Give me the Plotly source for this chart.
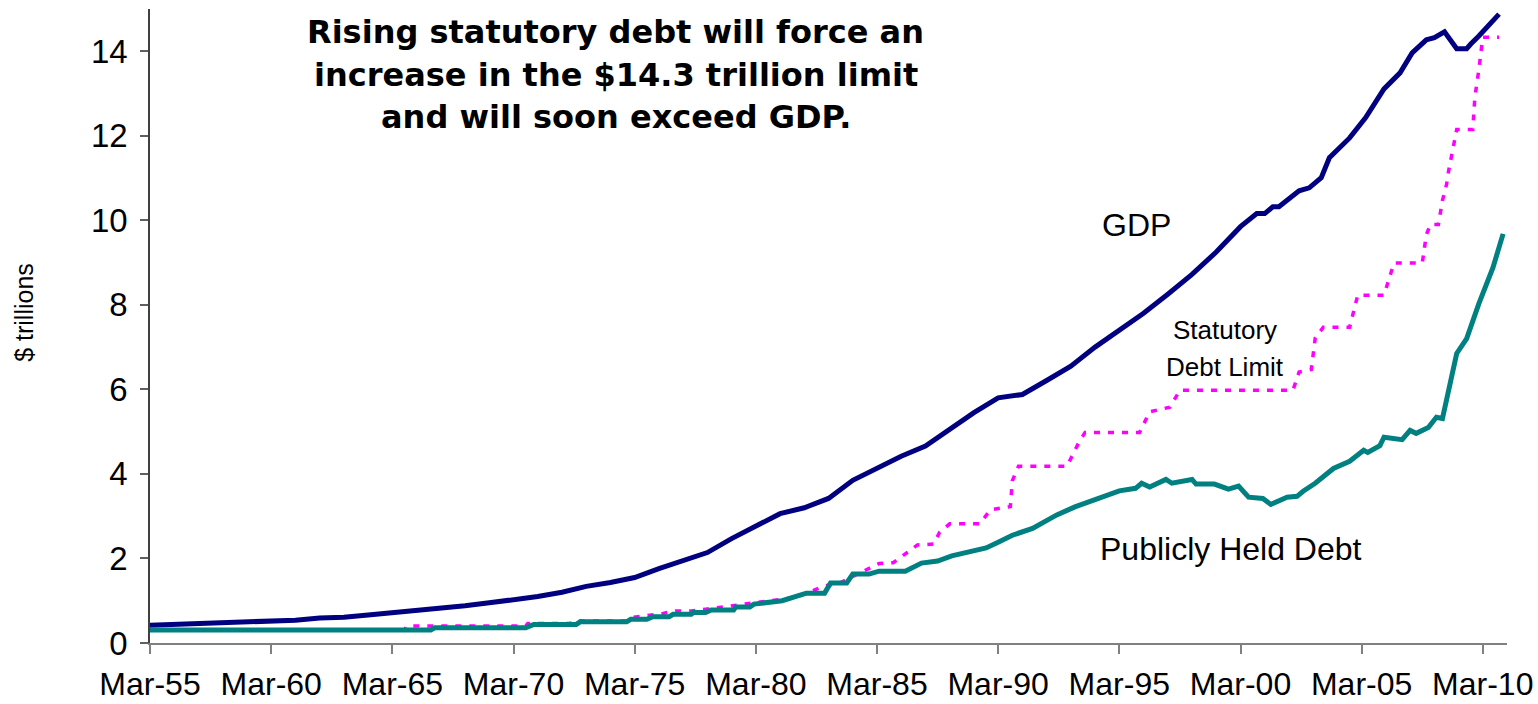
import plotly.graph_objects as go

# ---------------- data ----------------
gdp_dates = [
    "1955-03", "1956-03", "1957-03", "1958-03", "1959-03", "1960-03", "1961-03", "1962-03",
    "1963-03", "1964-03", "1965-03", "1966-03", "1967-03", "1968-03", "1969-03", "1970-03",
    "1971-03", "1972-03", "1973-03", "1974-03", "1975-03", "1976-03", "1977-03", "1978-03",
    "1979-03", "1980-03", "1981-03", "1982-03", "1983-03", "1984-03", "1985-03", "1986-03",
    "1987-03", "1988-03", "1989-03", "1990-03", "1991-03", "1992-03", "1993-03", "1994-03",
    "1995-03", "1996-03", "1997-03", "1998-03", "1999-03", "2000-03", "2000-11", "2001-03",
    "2001-07", "2001-10", "2002-08", "2003-01", "2003-07", "2003-11", "2004-09", "2005-05",
    "2006-02", "2006-10", "2007-04", "2007-11", "2008-03", "2008-07", "2008-08", "2009-02",
    "2009-07", "2009-09", "2010-01", "2010-11",
]
gdp_values = [
    0.42, 0.44, 0.47, 0.48, 0.51, 0.54, 0.54, 0.59,
    0.61, 0.66, 0.71, 0.78, 0.82, 0.88, 0.95, 1.02,
    1.10, 1.20, 1.34, 1.43, 1.55, 1.76, 1.95, 2.14,
    2.47, 2.75, 3.06, 3.20, 3.42, 3.85, 4.15, 4.42,
    4.66, 5.05, 5.45, 5.80, 5.88, 6.21, 6.55, 7.00,
    7.40, 7.80, 8.25, 8.72, 9.25, 9.85, 10.16, 10.16,
    10.32, 10.32, 10.70, 10.77, 11.01, 11.48, 11.95, 12.43,
    13.11, 13.49, 13.96, 14.27, 14.32, 14.46, 14.46, 14.06,
    14.06, 14.17, 14.36, 14.88,
]

limit_dates = [
    "1955-03", "1965-09", "1965-10", "1970-09", "1970-10", "1972-07", "1972-08", "1974-11",
    "1975-01", "1975-09", "1976-05", "1976-11", "1977-07", "1978-02", "1979-05", "1980-01",
    "1981-04", "1981-11", "1983-01", "1983-09", "1984-07", "1985-04", "1985-11", "1986-05",
    "1986-11", "1987-07", "1987-10", "1988-03", "1989-06", "1989-11", "1990-09", "1990-10",
    "1991-01", "1993-01", "1993-07", "1993-10", "1996-01", "1996-06", "1997-04", "1997-09",
    "2002-05", "2002-08", "2003-02", "2003-04", "2003-08", "2004-09", "2005-01", "2006-02",
    "2006-07", "2007-09", "2007-11", "2008-01", "2008-05", "2008-07", "2008-09", "2008-10",
    "2009-01", "2009-02", "2009-10", "2009-11", "2010-01", "2010-03", "2010-11",
]
limit_values = [
    0.30, 0.30, 0.40, 0.40, 0.46, 0.46, 0.52, 0.52,
    0.60, 0.64, 0.70, 0.76, 0.76, 0.80, 0.89, 0.95,
    1.04, 1.08, 1.35, 1.43, 1.67, 1.88, 1.90, 2.10,
    2.32, 2.34, 2.62, 2.82, 2.82, 3.15, 3.23, 3.84,
    4.18, 4.18, 4.75, 4.98, 4.98, 5.47, 5.58, 5.98,
    5.98, 6.41, 6.47, 7.21, 7.47, 7.47, 8.23, 8.23,
    8.99, 8.99, 9.66, 9.90, 9.90, 10.47, 10.85, 11.16,
    11.83, 12.15, 12.15, 12.90, 13.57, 14.33, 14.33,
]

public_dates = [
    "1955-03", "1966-10", "1966-12", "1970-09", "1971-01", "1972-10", "1972-12", "1974-11",
    "1975-01", "1975-09", "1975-12", "1976-08", "1976-10", "1977-07", "1977-08", "1978-02",
    "1978-05", "1979-04", "1979-05", "1979-12", "1980-02", "1981-04", "1982-04", "1983-01",
    "1983-04", "1983-12", "1984-03", "1984-11", "1985-04", "1986-05", "1987-01", "1987-09",
    "1988-04", "1989-01", "1989-09", "1990-04", "1990-10", "1991-08", "1992-08", "1993-05",
    "1994-04", "1995-03", "1995-11", "1996-02", "1996-06", "1997-02", "1997-05", "1998-03",
    "1998-05", "1999-02", "1999-09", "2000-02", "2000-07", "2001-02", "2001-06", "2002-02",
    "2002-07", "2002-10", "2003-04", "2004-01", "2004-09", "2005-04", "2005-06", "2005-12",
    "2006-02", "2006-11", "2007-03", "2007-06", "2007-12", "2008-04", "2008-07", "2008-10",
    "2009-02", "2009-07", "2010-01", "2010-08", "2011-01",
]
public_values = [
    0.31, 0.31, 0.36, 0.36, 0.44, 0.44, 0.50, 0.50,
    0.56, 0.56, 0.62, 0.62, 0.68, 0.68, 0.72, 0.72,
    0.78, 0.78, 0.85, 0.85, 0.92, 1.00, 1.18, 1.18,
    1.42, 1.42, 1.63, 1.63, 1.70, 1.70, 1.89, 1.94,
    2.06, 2.17, 2.25, 2.41, 2.55, 2.71, 3.03, 3.22,
    3.42, 3.60, 3.66, 3.78, 3.69, 3.87, 3.78, 3.87,
    3.76, 3.76, 3.64, 3.71, 3.45, 3.42, 3.28, 3.45,
    3.47, 3.59, 3.78, 4.13, 4.30, 4.56, 4.51, 4.67,
    4.87, 4.81, 5.03, 4.96, 5.10, 5.34, 5.31, 5.98,
    6.85, 7.20, 8.03, 8.88, 9.68,
]

tick_dates = ["1955-03-01", "1960-03-01", "1965-03-01", "1970-03-01", "1975-03-01", "1980-03-01",
              "1985-03-01", "1990-03-01", "1995-03-01", "2000-03-01", "2005-03-01", "2010-03-01"]
tick_labels = ["Mar-55", "Mar-60", "Mar-65", "Mar-70", "Mar-75", "Mar-80",
               "Mar-85", "Mar-90", "Mar-95", "Mar-00", "Mar-05", "Mar-10"]
y_ticks = [0, 2, 4, 6, 8, 10, 12, 14]

title_lines = ["Rising statutory debt will force an",
               "increase in the $14.3 trillion limit",
               "and will soon exceed GDP."]

# ---------------- figure ----------------
FONT = "Liberation Sans, Arial, sans-serif"
fig = go.Figure()

fig.add_trace(go.Scatter(x=limit_dates, y=limit_values, mode="lines", name="Statutory Debt Limit",
                         line=dict(color="#FF00FF", width=3.5, dash="6px,8px")))
fig.add_trace(go.Scatter(x=gdp_dates, y=gdp_values, mode="lines", name="GDP",
                         line=dict(color="#000080", width=5)))
fig.add_trace(go.Scatter(x=public_dates, y=public_values, mode="lines", name="Publicly Held Debt",
                         line=dict(color="#008080", width=5)))

fig.update_layout(
    width=1538, height=704,
    margin=dict(l=150, r=31, t=9, b=61),
    paper_bgcolor="white", plot_bgcolor="white",
    showlegend=False,
    font=dict(family=FONT, color="black"),
    xaxis=dict(
        type="date", range=["1955-03-01", "2011-03-01"],
        tickvals=tick_dates, ticktext=tick_labels,
        tickfont=dict(size=32, family=FONT, color="black"),
        ticklabelstandoff=3, automargin=False,
        showgrid=False, zeroline=False,
        showline=True, linecolor="#808080", linewidth=1.5,
        ticks="outside", ticklen=9, tickcolor="#808080", tickwidth=1.5,
    ),
    yaxis=dict(
        range=[0, 15], tickvals=y_ticks,
        tickfont=dict(size=33, family=FONT, color="black"),
        ticklabelstandoff=6, automargin=False,
        showgrid=False, zeroline=False,
        showline=True, linecolor="#404040", linewidth=1.5,
        ticks="outside", ticklen=8, tickcolor="#606060", tickwidth=1.5,
    ),
)

# y-axis title
fig.add_annotation(text="$ trillions", xref="paper", yref="paper", x=-0.093, y=0.522,
                   textangle=-90, showarrow=False, font=dict(size=25, family=FONT, color="black"),
                   xanchor="center", yanchor="middle")

# headline (three lines)
for line, ypos in zip(title_lines, [0.9637, 0.8959, 0.8297]):
    fig.add_annotation(text="<b>" + line + "</b>", xref="paper", yref="paper", x=0.3434, y=ypos,
                       showarrow=False, xanchor="center", yanchor="middle",
                       font=dict(size=32, family="DejaVu Sans, sans-serif", color="black"))

# series labels
fig.add_annotation(text="GDP", x="1995-11-15", y=9.9, showarrow=False,
                   font=dict(size=32, family=FONT, color="black"))
fig.add_annotation(text="Statutory", x="1999-07-15", y=7.40, showarrow=False,
                   font=dict(size=26, family=FONT, color="black"))
fig.add_annotation(text="Debt Limit", x="1999-07-15", y=6.53, showarrow=False,
                   font=dict(size=26, family=FONT, color="black"))
fig.add_annotation(text="Publicly Held Debt", x="1999-10-15", y=2.22, showarrow=False,
                   font=dict(size=32, family=FONT, color="black"))

fig.write_html("out.html")
